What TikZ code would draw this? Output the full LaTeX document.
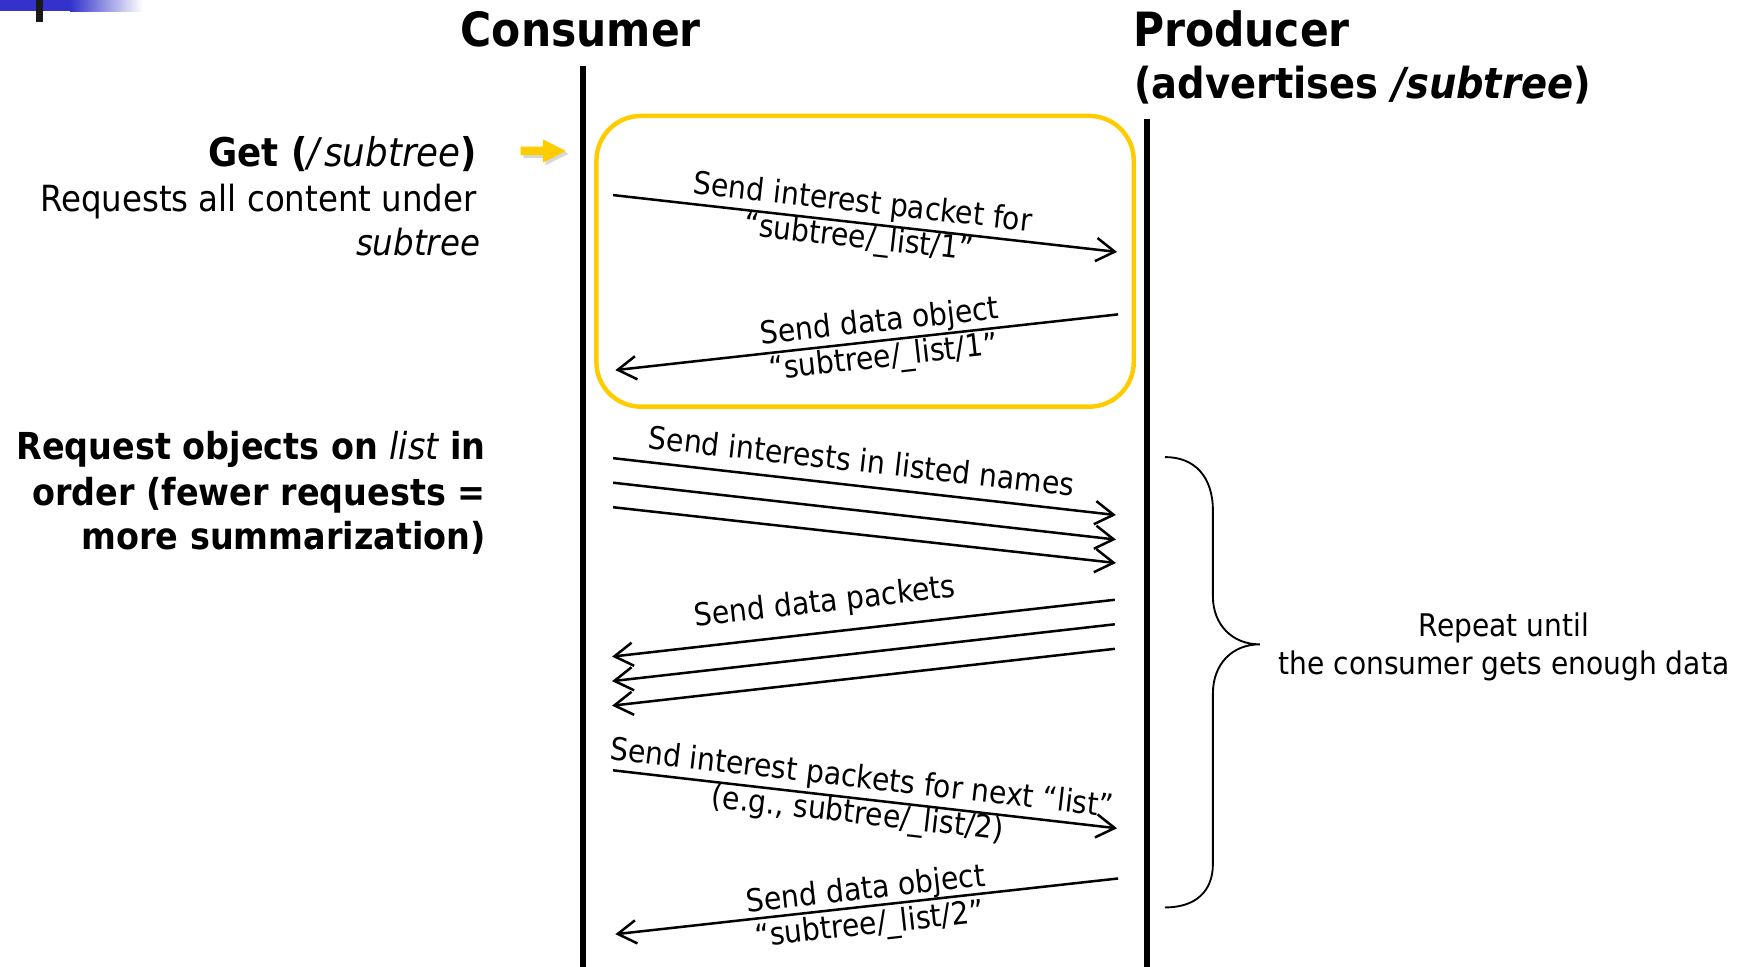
\documentclass[tikz,border=0pt]{standalone}
\usepackage{fontspec}
\setmainfont{DejaVu Sans}[FakeStretch=0.9]
\usetikzlibrary{arrows.meta}
\definecolor{gold}{RGB}{255,204,0}
\definecolor{bandblue}{RGB}{51,51,204}

\begin{document}
\begin{tikzpicture}[x=0.6pt,y=-0.6pt,
  lifeline/.style={line width=3pt,black},
  msg/.style={line width=1.35pt,-{Straight Barb[length=10pt,width=12.5pt,line width=1.35pt]}},
  title/.style={inner sep=0pt,font=\fontsize{25.4}{30}\selectfont\bfseries},
  subtitle/.style={inner sep=0pt,font=\fontsize{23}{28}\selectfont\bfseries},
  side/.style={inner sep=0pt,font=\fontsize{19.4}{24}\selectfont},
  sidebold/.style={inner sep=0pt,font=\fontsize{20}{24}\selectfont\bfseries},
  lbl/.style={inner sep=0pt,align=center,font=\fontsize{16.9}{19.2}\selectfont},
  note/.style={inner sep=0pt,align=center,font=\fontsize{16.8}{20.4}\selectfont}]
\useasboundingbox (0,0) rectangle (1568,867);

% corner band
\fill[bandblue] (0,0) rectangle (63,10);
\shade[left color=bandblue,right color=white] (63,0) rectangle (128,10);
\fill[black!90] (32.3,0) rectangle (38.3,19.7);

% headings
\node[title,anchor=base] (consumer) at (521,42) {Consumer};
\node[title,anchor=base west] (producer) at (1016,42) {Producer};
\node[subtitle,anchor=base west] (advert) at (1017,88) {(advertises \textit{/subtree})};

% lifelines
\coordinate (ctop) at (523,59);
\coordinate (cbot) at (523,867);
\coordinate (ptop) at (1029,107);
\coordinate (pbot) at (1029,867);
\draw[lifeline] (ctop) -- (cbot);
\draw[lifeline] (ptop) -- (pbot);

% highlighted first exchange
\node[draw=gold,line width=2.4pt,rounded corners=24pt,minimum width=289.2pt,minimum height=156.5pt] (loop) at (776,234.4) {};

% small pointer arrow
\fill[black!45,opacity=0.35] (469.5,134.1) -- (489.5,134.1) -- (489.5,127.5) -- (510,137.9) -- (489.5,148.3) -- (489.5,141.7) -- (469.5,141.7) -- cycle;
\fill[gold] (467,131.6) -- (487,131.6) -- (487,125) -- (507.5,135.4) -- (487,145.8) -- (487,139.2) -- (467,139.2) -- cycle;

% left-hand descriptions
\node[sidebold,anchor=base east,font=\fontsize{21.3}{24}\selectfont\bfseries] (get) at (428,149) {Get ({\mdseries\itshape /\kern2.5pt subtree})};
\node[side,anchor=base east] (getd1) at (428,190) {Requests all content under};
\node[side,anchor=base east] (getd2) at (431,229) {\textit{subtree}};
\node[sidebold,anchor=base east] (req1) at (436,412) {Request objects on {\mdseries\itshape list} in};
\node[sidebold,anchor=base east] (req2) at (436,453) {order (fewer requests =};
\node[sidebold,anchor=base east] (req3) at (436,493) {more summarization)};

% message endpoints
\coordinate (a1s) at (550,175);  \coordinate (a1e) at (1002,226);
\coordinate (a2s) at (1003,282); \coordinate (a2e) at (552,332);
\coordinate (a3s) at (550,411);  \coordinate (a3e) at (1001,462);
\coordinate (a4s) at (550,433);  \coordinate (a4e) at (1001,484);
\coordinate (a5s) at (550,455);  \coordinate (a5e) at (1001,505);
\coordinate (a6s) at (1000,538); \coordinate (a6e) at (549,589);
\coordinate (a7s) at (1000,560); \coordinate (a7e) at (549,611);
\coordinate (a8s) at (1000,582); \coordinate (a8e) at (549,633);
\coordinate (a9s) at (550,691);  \coordinate (a9e) at (1002,743);
\coordinate (a10s) at (1003,788); \coordinate (a10e) at (552,838);

\draw[msg] (a1s) -- (a1e);
\draw[msg] (a2s) -- (a2e);
\draw[msg] (a3s) -- (a3e);
\draw[msg] (a4s) -- (a4e);
\draw[msg] (a5s) -- (a5e);
\draw[msg] (a6s) -- (a6e);
\draw[msg] (a7s) -- (a7e);
\draw[msg] (a8s) -- (a8e);
\draw[msg] (a9s) -- (a9e);
\draw[msg] (a10s) -- (a10e);

% message labels
\node[lbl,rotate=-6.44] (l1) at (772,199) {Send interest packet for\\“subtree/\_list/1”};
\node[lbl,rotate=6.33] (l2) at (791,306) {Send data object\\“subtree/\_list/1”};
\node[lbl,rotate=-6.45] (l3) at (773,413) {Send interests in listed names};
\node[lbl,rotate=6.45] (l4) at (740,541) {Send data packets};
\node[lbl,rotate=-6.56] (l5) at (771,715.5) {Send interest packets for next “list”\\(e.g., subtree/\_list/2)};
\node[lbl,rotate=6.33] (l6) at (778.5,815) {Send data object\\“subtree/\_list/2”};

% repeat brace
\draw[line width=1pt] (1045,410) .. controls (1072,410) and (1088,428) .. (1088,458)
  -- (1088,535) .. controls (1088,560) and (1105,578) .. (1130,578)
  .. controls (1105,578) and (1088,596) .. (1088,622)
  -- (1088,775) .. controls (1088,800) and (1072,814) .. (1045,814);
\node[note] (repeat) at (1349,580) {Repeat until\\the consumer gets enough data};
\end{tikzpicture}
\end{document}
